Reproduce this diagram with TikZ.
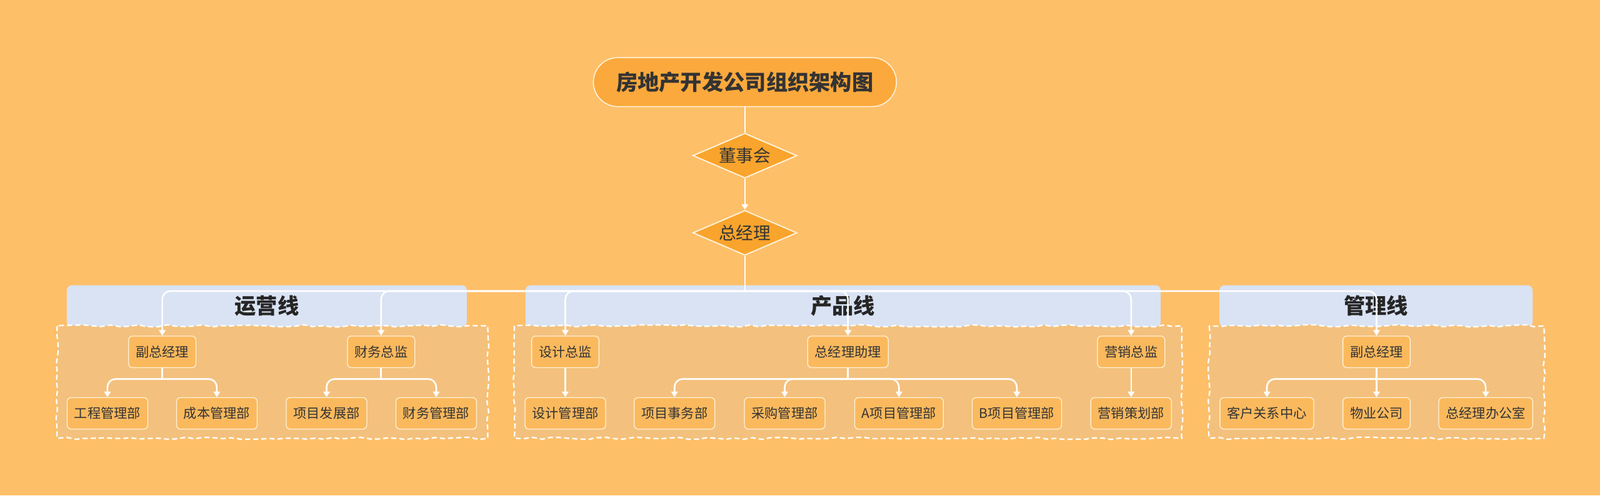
\documentclass[tikz,border=0pt]{standalone}
\usepackage{fontspec}
\setmainfont{Noto Sans CJK SC}
\usetikzlibrary{shapes.geometric, arrows.meta, positioning, decorations.pathmorphing}
\definecolor{bgorange}{HTML}{FEBF69}
\definecolor{groupfill}{HTML}{F3C17D}
\definecolor{deptfill}{HTML}{FBB95E}
\definecolor{titlefill}{HTML}{FBA93C}
\definecolor{diamondfill}{HTML}{F9A42C}
\definecolor{laneblue}{HTML}{D9E3F4}
\definecolor{cream}{HTML}{FFF2D9}
\definecolor{ink}{HTML}{333333}
\tikzstyle{title} = [rectangle, rounded corners=24pt, minimum width=297pt, minimum height=48pt, text centered, draw=cream, line width=1pt, fill=titlefill, text=ink, font=\bfseries\fontsize{21}{25}\selectfont]
\tikzstyle{decision} = [diamond, aspect=2.3, minimum width=102pt, minimum height=44pt, inner sep=0pt, draw=cream, line width=1.2pt, fill=diamondfill, text=ink, font=\fontsize{17}{20}\selectfont]
\tikzstyle{lane} = [rounded corners=5pt, fill=laneblue]
\tikzstyle{lanetext} = [text=black!85, font=\bfseries\fontsize{21}{25}\selectfont]
\tikzstyle{group} = [draw=white, line width=1.4pt, dash pattern=on 5pt off 3pt, fill=groupfill, decorate, decoration={random steps, segment length=9pt, amplitude=1.1pt}]
\tikzstyle{dept} = [rectangle, rounded corners=4pt, minimum height=31pt, inner xsep=7pt, draw=cream, line width=0.8pt, fill=deptfill, text=ink, font=\fontsize{13}{15}\selectfont]
\tikzstyle{arrow} = [draw=white, line width=1.6pt, -{Triangle[width=6.5pt,length=5.5pt]}, rounded corners=8pt]
\tikzstyle{link} = [draw=white, line width=1.6pt, rounded corners=8pt]

\begin{document}
\begin{tikzpicture}[x=1pt, y=-1pt]
\useasboundingbox (0,0) rectangle (1568,486);
\fill[bgorange] (0,0) rectangle (1568,486);

% Lanes
\fill[lane] (65.5,279.7) rectangle (457.5,320.5);
\fill[lane] (515,279.7) rectangle (1137.5,320.5);
\fill[lane] (1195,279.7) rectangle (1502,320.5);
\node (opline) at (261.5,300) [lanetext] {运营线};
\node (prline) at (826,300) [lanetext] {产品线};
\node (mgline) at (1348.5,300) [lanetext] {管理线};
\path[group] (56,319.5) rectangle (478,429.8);
\path[group] (504,319.5) rectangle (1158,429.8);
\path[group] (1185,319.5) rectangle (1513,429.8);

% Nodes
\node (chart) at (730,80.5) [title] {房地产开发公司组织架构图};
\node (board) [decision, below=25pt of chart] {董事会};
\node (gm) [decision, below=30.5pt of board] {总经理};

\node (opvice) at (159,345) [dept] {副总经理};
\node (cfo) at (373.5,345) [dept] {财务总监};
\node (design) at (554,345) [dept] {设计总监};
\node (gmasst) at (831,345) [dept] {总经理助理};
\node (sales) at (1108.5,345) [dept] {营销总监};
\node (mgvice) at (1349,345) [dept] {副总经理};

\node (eng) at (105.3,405.3) [dept] {工程管理部};
\node (cost) at (212.5,405.3) [dept] {成本管理部};
\node (projdev) at (320,405.3) [dept] {项目发展部};
\node (fin) at (427.5,405.3) [dept] {财务管理部};
\node (designdep) at (554,405.3) [dept] {设计管理部};
\node (projaff) at (661,405.3) [dept] {项目事务部};
\node (purch) at (769,405.3) [dept] {采购管理部};
\node (proja) at (881,405.3) [dept] {A项目管理部};
\node (projb) at (996.5,405.3) [dept] {B项目管理部};
\node (plan) at (1108.5,405.3) [dept] {营销策划部};
\node (crm) at (1241.5,405.3) [dept] {客户关系中心};
\node (prop) at (1349,405.3) [dept] {物业公司};
\node (office) at (1456,405.3) [dept] {总经理办公室};

\coordinate (hub) at (730,285.4);
\coordinate (opfork) at (159,371.6);
\coordinate (cfofork) at (373.5,371.6);
\coordinate (asstfork) at (831,371.6);
\coordinate (mgfork) at (1349,371.6);

% Arrows
\draw [link] (chart) -- (board);
\draw [arrow] (board) -- (gm);
\draw [link] (gm.south) -- (hub);
\draw [arrow] (hub) -| (opvice.north);
\draw [arrow] (hub) -| (cfo.north);
\draw [arrow] (hub) -| (design.north);
\draw [arrow] (hub) -| (gmasst.north);
\draw [arrow] (hub) -| (sales.north);
\draw [arrow] (hub) -| (mgvice.north);

\draw [link] (opvice) -- (opfork);
\draw [arrow] (opfork) -| (eng.north);
\draw [arrow] (opfork) -| (cost.north);
\draw [link] (cfo) -- (cfofork);
\draw [arrow] (cfofork) -| (projdev.north);
\draw [arrow] (cfofork) -| (fin.north);
\draw [arrow] (design) -- (designdep);
\draw [link] (gmasst) -- (asstfork);
\draw [arrow] (asstfork) -| (projaff.north);
\draw [arrow] (asstfork) -| (purch.north);
\draw [arrow] (asstfork) -| (proja.north);
\draw [arrow] (asstfork) -| (projb.north);
\draw [arrow] (sales) -- (plan);
\draw [link] (mgvice) -- (mgfork);
\draw [arrow] (mgfork) -| (crm.north);
\draw [arrow] (mgfork) -- (prop.north);
\draw [arrow] (mgfork) -| (office.north);

\end{tikzpicture}
\end{document}
